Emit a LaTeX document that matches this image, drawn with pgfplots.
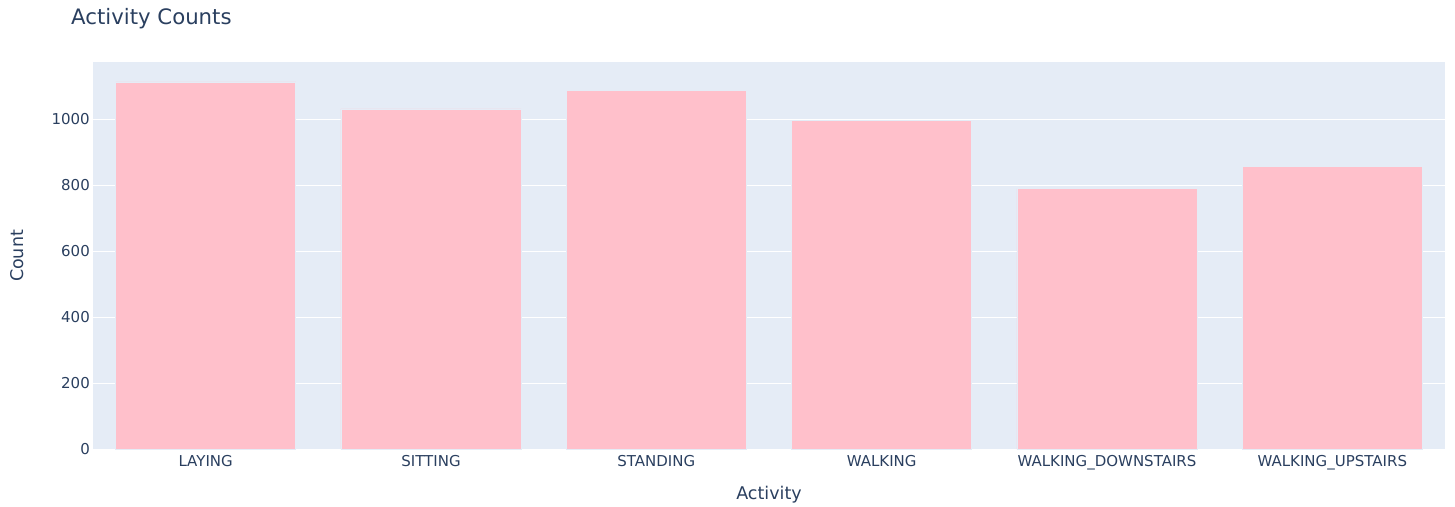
\documentclass[border=0pt]{standalone}
\usepackage{pgfplots}
\pgfplotsset{compat=1.18}
\usepackage{fontspec}
\setmainfont{DejaVu Sans}
\definecolor{bgc}{HTML}{E5ECF6}
\definecolor{barc}{HTML}{FFC0CB}
\definecolor{txt}{HTML}{2A3F5F}
\begin{document}
\begin{tikzpicture}[x=1bp,y=1bp]
\path[use as bounding box] (0,0) rectangle (1455,507);
\begin{axis}[
  at={(93bp,57.5bp)}, anchor=south west,
  width=1352bp, height=387.5bp, scale only axis,
  xmin=-0.5, xmax=5.5, ymin=0, ymax=1173,
  axis background/.style={fill=bgc},
  axis line style={draw=none},
  major tick length=0pt,
  xtick={0,1,2,3,4,5},
  xticklabels={LAYING,SITTING,STANDING,WALKING,WALKING\_DOWNSTAIRS,WALKING\_UPSTAIRS},
  ytick={0,200,400,600,800,1000},
  ymajorgrids,
  grid style={white, line width=1.25bp},
  /pgf/number format/assume math mode=true,
  /pgf/number format/1000 sep={},
  tick label style={font=\fontsize{15bp}{18bp}\selectfont, text=txt, inner sep=0pt},
  yticklabel style={anchor=east, xshift=-3bp},
  xticklabel style={anchor=base, yshift=-17.5bp},
]
\addplot[ybar, bar width=0.8, fill=barc, draw=bgc, line width=0.6bp]
  coordinates {(0,1113) (1,1031) (2,1086) (3,997) (4,790) (5,857)};
\end{axis}
\node[anchor=base west, inner sep=0pt, text=txt, font=\fontsize{21.25bp}{25bp}\selectfont] at (71,482) {Activity Counts};
\node[anchor=base, inner sep=0pt, text=txt, font=\fontsize{17.5bp}{21bp}\selectfont] at (769,7) {Activity};
\node[anchor=base, rotate=90, inner sep=0pt, text=txt, font=\fontsize{17.5bp}{21bp}\selectfont] at (23,251) {Count};
\end{tikzpicture}
\end{document}
